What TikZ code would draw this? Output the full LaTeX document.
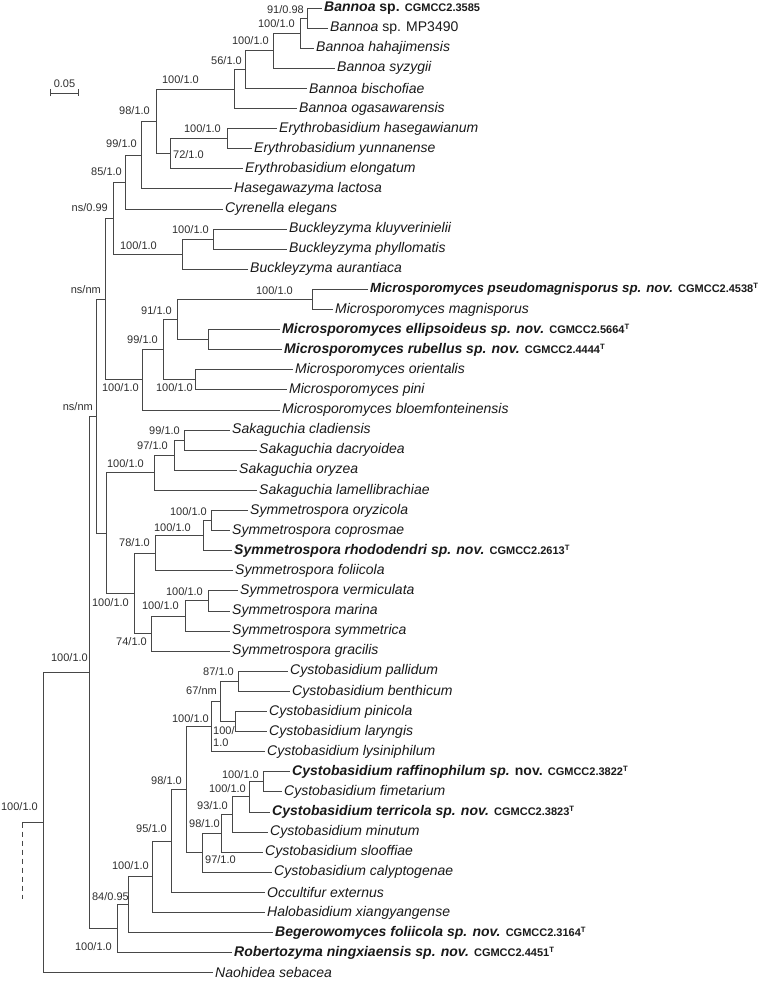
\documentclass[tikz,border=0pt]{standalone}
\usepackage{fontspec}
\setmainfont{Liberation Sans}
\usetikzlibrary{arrows.meta}
\newcommand\typestrain[1]{{\upshape\bfseries\fontsize{11}{13}\selectfont #1}}

\begin{document}
\begin{tikzpicture}[
  x=1pt, y=-1pt,
  br/.style={draw=black!72, line width=0.95pt},
  lf/.style={anchor=west, inner sep=2pt, text=black!90, font=\fontsize{14}{16}\selectfont\itshape},
  bs/.style={anchor=east, inner sep=0pt, text=black!82, font=\fontsize{11}{12}\selectfont},
  bsr/.style={bs, anchor=west},
]
\useasboundingbox (0,0) rectangle (770,984);
% ----- leaves, one row each -----
\foreach \tx/\nm [count=\i from 0] in {
  322/{{\bfseries Bannoa \upshape sp.} \typestrain{CGMCC2.3585}},
  328/{Bannoa {\upshape sp. MP3490}},
  314/{Bannoa hahajimensis},
  335/{Bannoa syzygii},
  307/{Bannoa bischofiae},
  297/{Bannoa ogasawarensis},
  277/{Erythrobasidium hasegawianum},
  252/{Erythrobasidium yunnanense},
  243/{Erythrobasidium elongatum},
  232/{Hasegawazyma lactosa},
  223/{Cyrenella elegans},
  287/{Buckleyzyma kluyverinielii},
  287/{Buckleyzyma phyllomatis},
  248/{Buckleyzyma aurantiaca},
  368/{{\fontsize{13.3}{16}\selectfont\bfseries Microsporomyces pseudomagnisporus sp. nov.} \typestrain{CGMCC2.4538\textsuperscript{T}}},
  333/{Microsporomyces magnisporus},
  280/{{\bfseries Microsporomyces ellipsoideus sp. nov.} \typestrain{CGMCC2.5664\textsuperscript{T}}},
  282/{{\bfseries Microsporomyces rubellus sp. nov.} \typestrain{CGMCC2.4444\textsuperscript{T}}},
  293/{Microsporomyces orientalis},
  287/{Microsporomyces pini},
  280/{Microsporomyces bloemfonteinensis},
  230/{Sakaguchia cladiensis},
  257/{Sakaguchia dacryoidea},
  237/{Sakaguchia oryzea},
  257/{Sakaguchia lamellibrachiae},
  248/{Symmetrospora oryzicola},
  230/{Symmetrospora coprosmae},
  232/{{\bfseries Symmetrospora rhododendri sp. nov.} \typestrain{CGMCC2.2613\textsuperscript{T}}},
  233/{Symmetrospora foliicola},
  238/{Symmetrospora vermiculata},
  230/{Symmetrospora marina},
  230/{Symmetrospora symmetrica},
  230/{Symmetrospora gracilis},
  288/{Cystobasidium pallidum},
  290/{Cystobasidium benthicum},
  267/{Cystobasidium pinicola},
  267/{Cystobasidium laryngis},
  265/{Cystobasidium lysiniphilum},
  290/{{\bfseries Cystobasidium raffinophilum sp. {\upshape nov.}} \typestrain{CGMCC2.3822\textsuperscript{T}}},
  282/{Cystobasidium fimetarium},
  270/{{\bfseries Cystobasidium terricola sp. nov.} \typestrain{CGMCC2.3823\textsuperscript{T}}},
  268/{Cystobasidium minutum},
  263/{Cystobasidium slooffiae},
  272/{Cystobasidium calyptogenae},
  265/{Occultifur externus},
  265/{Halobasidium xiangyangense},
  273/{{\bfseries Begerowomyces foliicola sp. nov.} \typestrain{CGMCC2.3164\textsuperscript{T}}},
  232/{{\bfseries Robertozyma ningxiaensis sp. nov.} \typestrain{CGMCC2.4451\textsuperscript{T}}},
  213/{Naohidea sebacea}}
  {\node[lf] (l\i) at (\tx,{8+20.1*\i}) {\nm};}
% ----- internal nodes -----
\foreach \n/\x/\y in {n1/307/18.05, n2/300/33.1, n3/273/50.7, n4/245/69.6, n5/234/89.0,
  n6/227/138.65, n7/170/153.7, n8/156/121.4, n9/141/155.1, n10/125/182.1,
  n11/213/239.15, n12/182/254.2, n13/113/218.1,
  n14/312/299.45, n15/208/339.65, n16/177/319.55, n17/195/379.85, n18/163/349.7,
  n19/142/379.85, n20/105/299.0,
  n21/184/440.15, n22/174/455.2, n23/154/472.8, n24/211/520.55, n25/203/535.6,
  n26/155/553.2, n27/208/600.95, n28/185/616.0, n29/151/633.6, n30/134/593.4,
  n31/106/533.1, n32/96/416.0,
  n35/238/681.35, n36/235/721.55, n37/220/701.45, n38/211/726.6, n39/263/781.85,
  n40/249/796.9, n41/232/814.5, n42/221/833.4, n43/202/852.8, n44/186/789.7,
  n45/171/841.0, n46/152/876.8, n47/128/904.7, n48/117/928.8,
  n33/89/672.3, n34/43/822.7, rt/22/822.7, rtend/22/899}
  {\coordinate (\n) at (\x,\y);}
% ----- branches -----
\foreach \a/\b in {n1/l0, n1/l1, n2/n1, n2/l2, n3/n2, n3/l3, n4/n3, n4/l4, n5/n4, n5/l5,
  n6/l6, n6/l7, n7/n6, n7/l8, n8/n5, n8/n7, n9/n8, n9/l9, n10/n9, n10/l10,
  n11/l11, n11/l12, n12/n11, n12/l13, n13/n10, n13/n12,
  n14/l14, n14/l15, n15/l16, n15/l17, n16/n14, n16/n15, n17/l18, n17/l19,
  n18/n16, n18/n17, n19/n18, n19/l20, n20/n13, n20/n19,
  n21/l21, n21/l22, n22/n21, n22/l23, n23/n22, n23/l24,
  n24/l25, n24/l26, n25/n24, n25/l27, n26/n25, n26/l28,
  n27/l29, n27/l30, n28/n27, n28/l31, n29/n28, n29/l32, n30/n26, n30/n29,
  n31/n23, n31/n30, n32/n20, n32/n31,
  n35/l33, n35/l34, n36/l35, n36/l36, n37/n35, n37/n36, n38/n37, n38/l37,
  n39/l38, n39/l39, n40/n39, n40/l40, n41/n40, n41/l41, n42/n41, n42/l42,
  n43/n42, n43/l43, n44/n38, n44/n43, n45/n44, n45/l44, n46/n45, n46/l45,
  n47/n46, n47/l46, n48/n47, n48/l47, n33/n32, n33/n48, n34/n33, n34/l48, rt/n34}
  {\draw[br] (\a) |- (\b);}
\draw[br, dash pattern=on 5pt off 4pt] (rt) -- (rtend);
% ----- support values -----
\foreach \x/\y/\t [count=\k] in {304/10/{91/0.98}, 295/24/{100/1.0}, 269/41/{100/1.0},
  242/61/{56/1.0}, 199/80/{100/1.0}, 221/129/{100/1.0}, 150/111/{98/1.0},
  137/144/{99/1.0}, 122/172/{85/1.0}, 209/230/{100/1.0}, 157/246/{100/1.0},
  108/208/{ns/0.99}, 101/290/{ns/nm}, 293/291/{100/1.0}, 172/311/{91/1.0},
  158/340/{99/1.0}, 139/388/{100/1.0}, 193/388/{100/1.0}, 93/407/{ns/nm},
  180/431/{99/1.0}, 168/446/{97/1.0}, 144/464/{100/1.0}, 207/512/{100/1.0},
  191/528/{100/1.0}, 150/543/{78/1.0}, 203/592/{100/1.0}, 179/606/{100/1.0},
  129/603/{100/1.0}, 147/642/{74/1.0}, 88/658/{100/1.0}, 234/672/{87/1.0},
  217/691/{67/nm}, 209/719/{100/1.0}, 259/775/{100/1.0}, 182/781/{98/1.0},
  246/789/{100/1.0}, 228/806/{93/1.0}, 220/824/{98/1.0}, 167/829/{95/1.0},
  149/866/{100/1.0}, 129/897/{84/0.95}, 112/947/{100/1.0}, 38/807/{100/1.0}}
  {\node[bs] (s\k) at (\x,\y) {\t};}
\node[bsr] (s72) at (173,155) {72/1.0};
\node[bsr] (s97) at (205,860) {97/1.0};
\node[bsr, align=left] (s100) at (213,737) {100/\\1.0};
% ----- scale bar -----
\coordinate (sbl) at (50,93);
\coordinate (sbr) at (79,93);
\draw[br, {Bar[width=7pt]}-{Bar[width=7pt]}] (sbl) -- (sbr);
\node[bs, anchor=center] (sblab) at (64.5,84) {0.05};
\end{tikzpicture}
\end{document}
